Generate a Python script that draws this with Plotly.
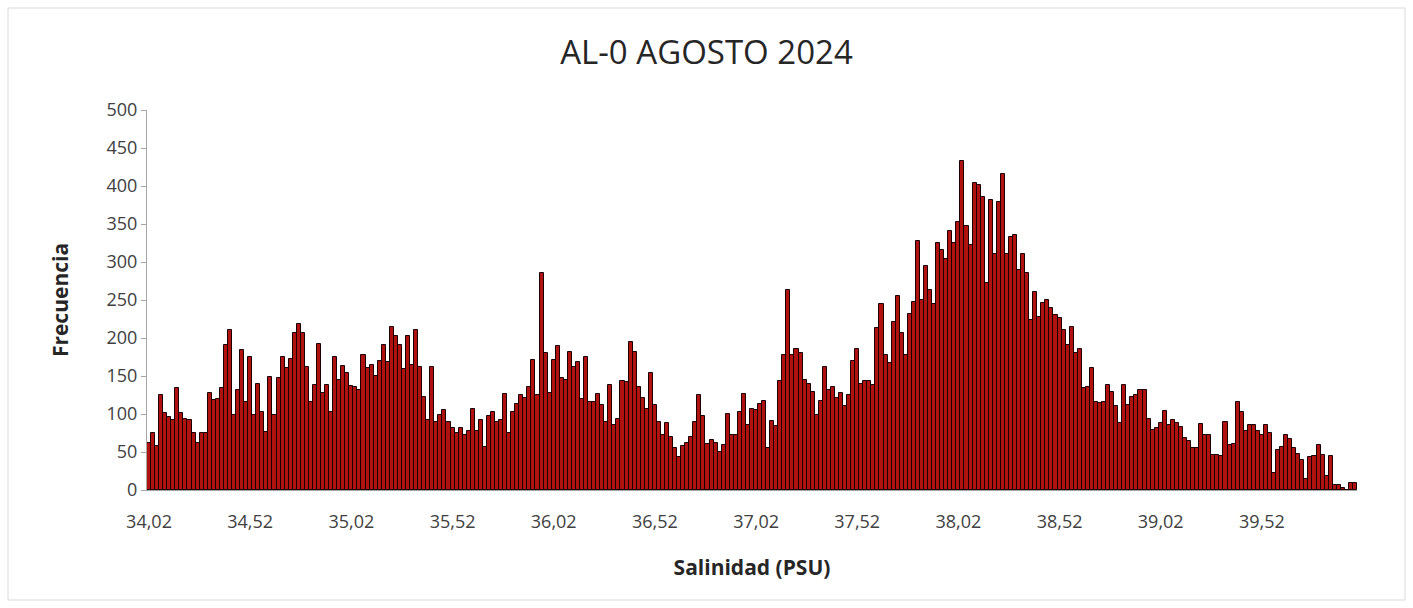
import plotly.graph_objects as go

# Salinity bins (PSU), 0.02 wide, first bin 34.02
n_bins = 299
bins = [round(34.02 + 0.02 * i, 2) for i in range(n_bins)]
categories = [f"{b:.2f}".replace(".", ",") for b in bins]

freq_34 = [62, 75, 58, 125, 101, 96, 92, 134, 101, 94, 92, 75, 62, 75, 75, 127, 119, 120, 134, 191, 210, 99, 132, 184,
           116, 175, 99, 140, 103, 76, 149, 99, 147, 175, 160, 173, 206, 218, 206, 162, 116, 138, 192, 127, 138, 103, 175, 145, 163]
freq_35 = [154, 137, 135, 131, 178, 160, 164, 150, 170, 191, 169, 214, 202, 191, 159, 203, 164, 211, 162, 123, 92, 162, 90, 99, 105,
           90, 81, 75, 81, 72, 77, 107, 77, 92, 57, 97, 103, 90, 92, 126, 75, 103, 113, 125, 121, 135, 171, 125, 285, 180]
freq_36 = [128, 171, 189, 147, 145, 181, 162, 169, 120, 175, 116, 116, 126, 112, 90, 138, 85, 94, 143, 142, 195, 182, 136, 121, 106,
           154, 112, 90, 72, 88, 70, 55, 44, 58, 62, 70, 90, 125, 98, 60, 66, 62, 50, 59, 100, 72, 72, 103, 126, 85]
freq_37 = [107, 105, 113, 117, 55, 91, 84, 143, 177, 263, 177, 186, 180, 145, 140, 129, 99, 117, 162, 132, 136, 121, 127, 110, 125,
           170, 186, 140, 143, 144, 138, 213, 245, 178, 167, 221, 255, 206, 178, 232, 248, 328, 250, 295, 263, 245, 325, 316, 304, 341]
freq_38 = [325, 352, 433, 347, 322, 404, 401, 386, 272, 382, 311, 379, 416, 311, 333, 335, 289, 311, 286, 224, 260, 228, 246, 250, 240,
           230, 226, 210, 191, 215, 180, 186, 134, 135, 161, 116, 114, 116, 138, 129, 110, 88, 138, 112, 123, 125, 132, 132, 94, 79]
freq_39 = [81, 88, 104, 86, 92, 88, 83, 69, 64, 55, 55, 87, 73, 73, 46, 46, 45, 89, 59, 60, 116, 102, 77, 86, 86,
           77, 73, 86, 75, 22, 53, 57, 72, 67, 55, 48, 39, 14, 43, 45, 59, 46, 18, 45, 6, 6, 3, 0, 9, 9]

frecuencia = freq_34 + freq_35 + freq_36 + freq_37 + freq_38 + freq_39
frecuencia = frecuencia[:n_bins] + [0] * max(0, n_bins - len(frecuencia))

tick_every = 25
tick_vals = categories[::tick_every]

fig = go.Figure(go.Bar(
    x=categories,
    y=frecuencia,
    marker=dict(color="#B0120F", line=dict(color="#1a0000", width=1)),
))

W, H = 1413, 608
ml, mr, mt, mb = 147, 56, 110, 118
pw, ph = W - ml - mr, H - mt - mb

fig.update_layout(
    width=W, height=H,
    margin=dict(l=ml, r=mr, t=mt, b=mb),
    paper_bgcolor="white", plot_bgcolor="white",
    bargap=0,
    showlegend=False,
    font=dict(family="Open Sans, Liberation Sans, sans-serif", color="#404040"),
    title=dict(text="AL-0 AGOSTO 2024", x=0.5, xanchor="center", y=1 - 52 / H, yanchor="middle",
               font=dict(size=33, color="#262626")),
    xaxis=dict(
        type="category",
        tickmode="array", tickvals=tick_vals, ticktext=tick_vals,
        tickangle=0,
        showline=True, linecolor="#A6A6A6", linewidth=1,
        ticks="outside", ticklen=15, tickcolor="rgba(0,0,0,0)",
        tickfont=dict(size=18, color="#404040"),
        showgrid=False,
        title=dict(text="<b>Salinidad (PSU)</b>", font=dict(size=21, color="#262626"), standoff=28),
    ),
    yaxis=dict(
        range=[0, 500], dtick=50,
        showline=True, linecolor="#A6A6A6", linewidth=1,
        ticks="outside", ticklen=5, tickcolor="#A6A6A6",
        tickfont=dict(size=18, color="#404040"),
        showgrid=False, zeroline=False,
        title=dict(text="<b>Frecuencia</b>", font=dict(size=21, color="#262626"), standoff=32),
    ),
)

# Chart-area border
fig.add_shape(type="rect", xref="paper", yref="paper",
              x0=(8 - ml) / pw, x1=(1405 - ml) / pw,
              y0=(mt + ph - 600) / ph, y1=(mt + ph - 8) / ph,
              line=dict(color="#D9D9D9", width=1), fillcolor="rgba(0,0,0,0)", layer="below")

fig.write_html("out.html", config={"displayModeBar": False},
               post_script="document.body.style.margin='0';document.body.style.overflow='hidden';")
